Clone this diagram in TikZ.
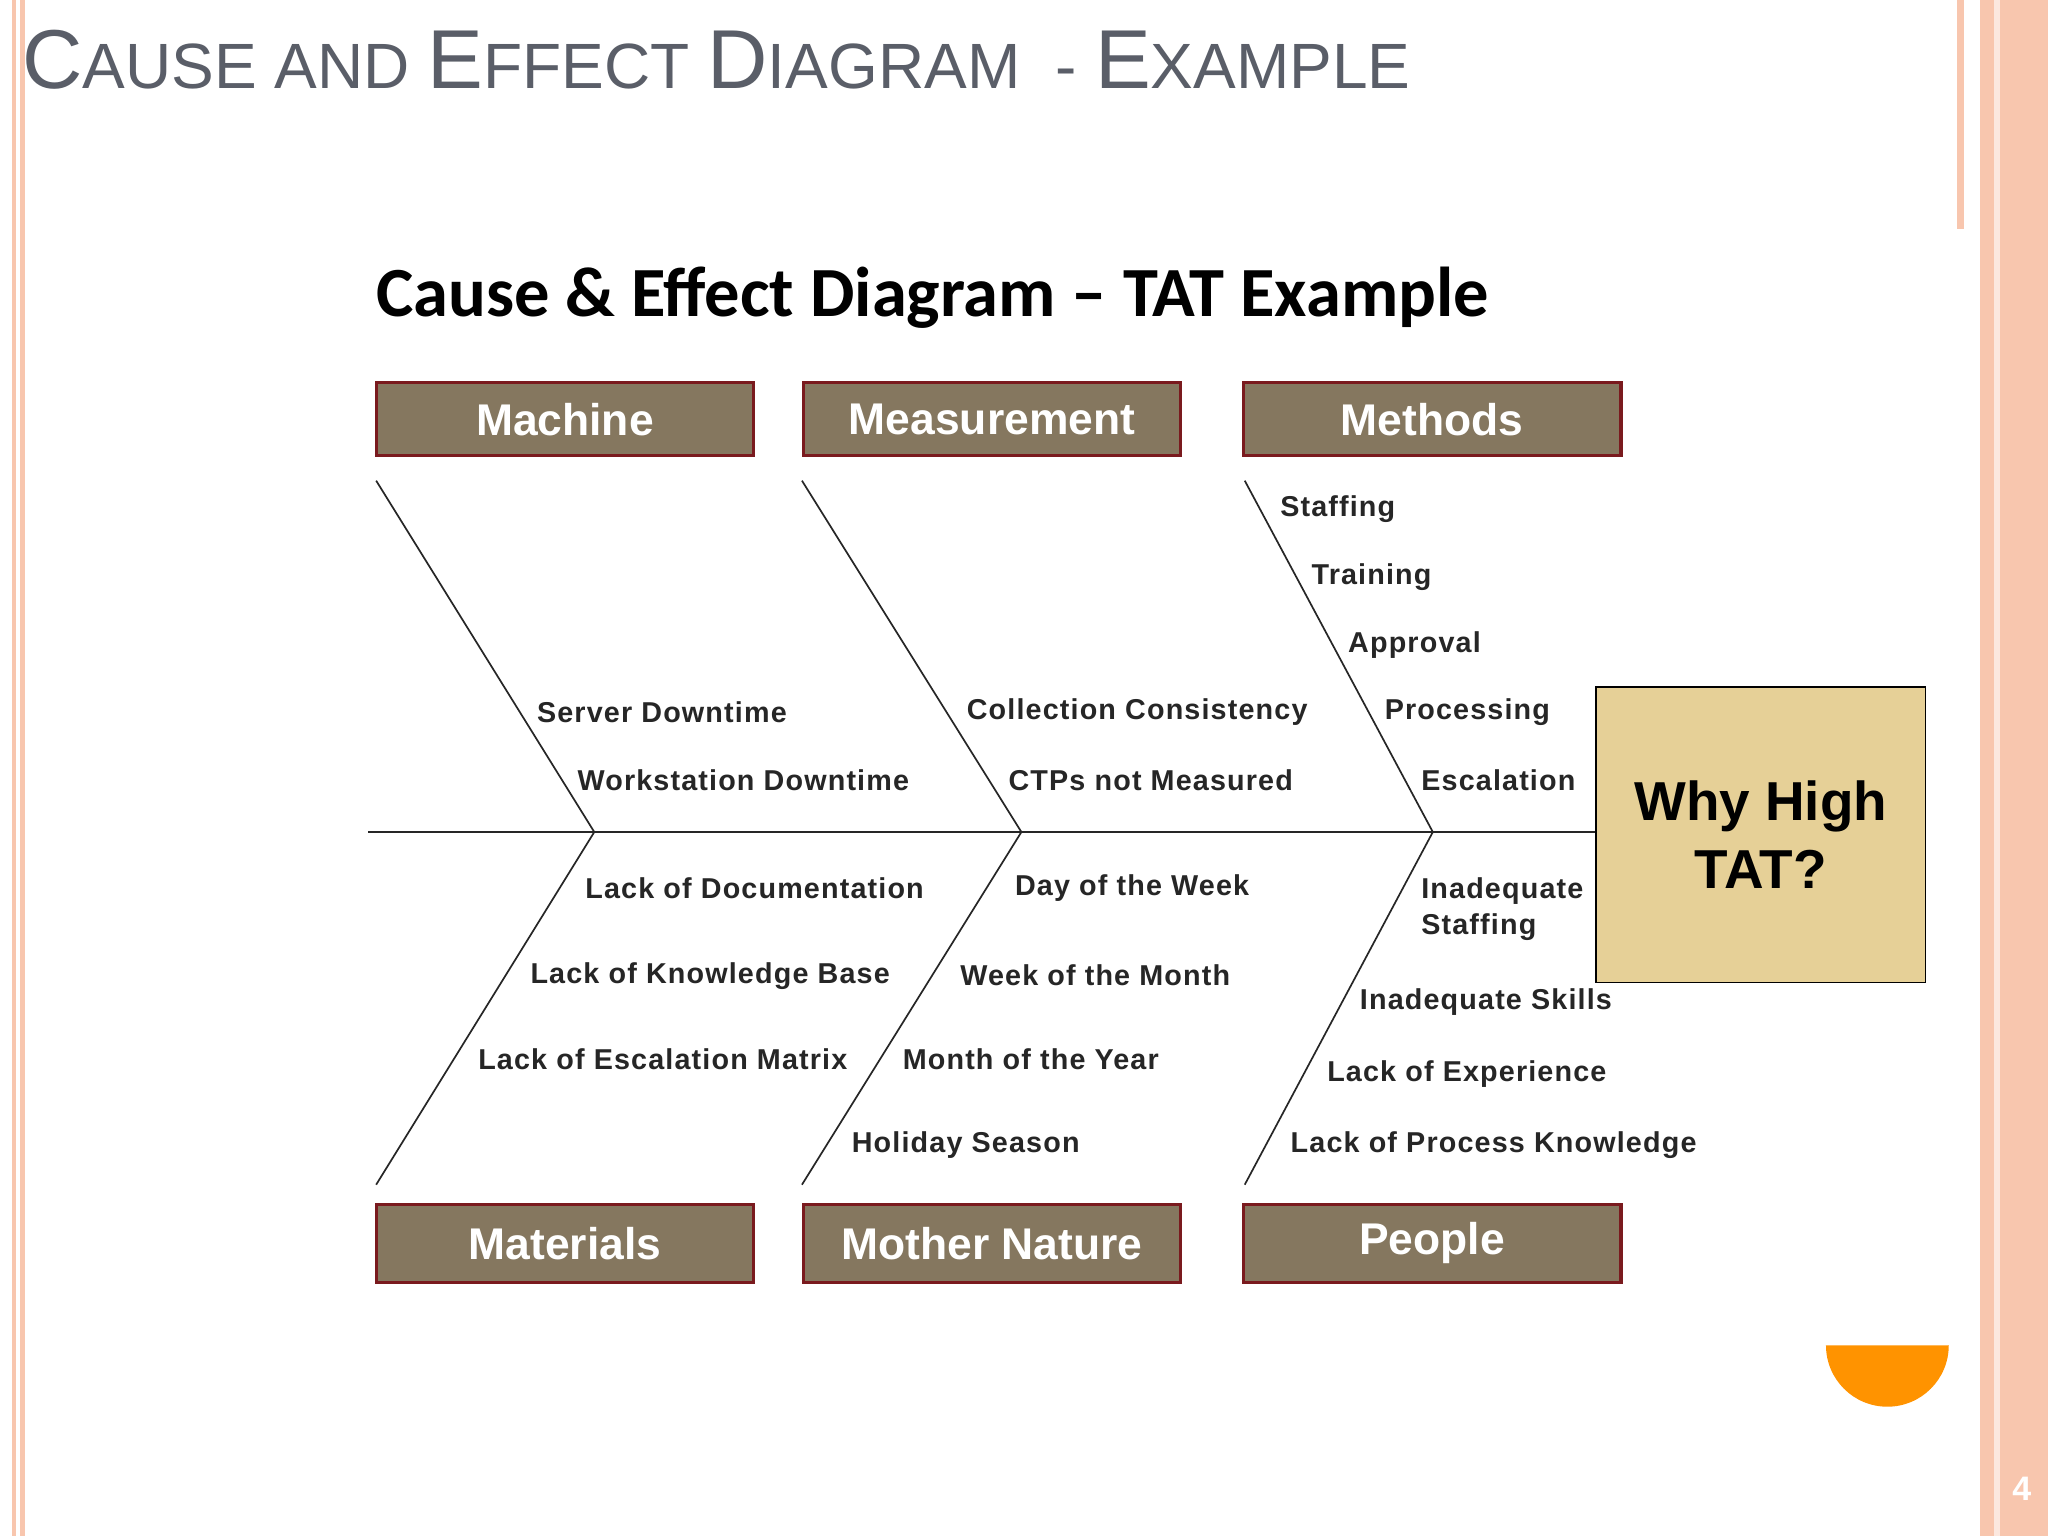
\documentclass[tikz,border=0pt]{standalone}
\usepackage{fontspec}
\setmainfont{Liberation Sans}
\newfontfamily\carl{Carlito}
\definecolor{boxf}{HTML}{85775F}
\definecolor{boxd}{HTML}{7A1A1E}
\definecolor{effc}{HTML}{E6D097}
\definecolor{ttl}{HTML}{5A5E68}
\definecolor{peach}{HTML}{F8C6AE}
\begin{document}
\begin{tikzpicture}[x=1pt,y=-1pt,
  cat/.style={draw=boxd,line width=2.5pt,fill=boxf,minimum width=289pt,minimum height=56pt,text=white,font=\bfseries\fontsize{34}{38}\selectfont,inner sep=0pt},
  lab/.style={anchor=west,inner sep=0pt,font=\bfseries\addfontfeatures{LetterSpace=4}\fontsize{22}{27}\selectfont,text=black!85},
  bone/.style={line width=1.3pt,black!85}]
\useasboundingbox (0,0) rectangle (1568,1176);
\fill[white] (0,0) rectangle (1568,1176);
% borders
\fill[peach] (9,0) rectangle (12,1176);
\fill[peach] (15,0) rectangle (19,1176);
\fill[peach] (1498,0) rectangle (1504,175);
\fill[peach] (1516,0) rectangle (1568,1176);
\fill[white!60!peach] (1527,0) rectangle (1531,1176);
\fill[orange!85!yellow] (1398,1030) arc[start angle=180,end angle=0,radius=47] -- cycle;
\node[text=white,font=\bfseries\fontsize{26}{28}\selectfont] (pg) at (1548,1140) {4};
% title
\node[anchor=base west,inner sep=0pt,text=ttl,font=\fontsize{64}{68}\selectfont] (title) at (17,68) {C\fontsize{49}{54}\selectfont AUSE AND \fontsize{64}{68}\selectfont E\fontsize{49}{54}\selectfont FFECT \fontsize{64}{68}\selectfont D\fontsize{49}{54}\selectfont IAGRAM\ \ - \fontsize{64}{68}\selectfont E\fontsize{49}{54}\selectfont XAMPLE};
\node[font=\carl\bfseries\fontsize{54}{58}\selectfont] (sub) at (714,228) {Cause \& Effect Diagram \textendash{} TAT Example};
% category boxes
\node[cat] (mach) at (432.5,321) {Machine};
\node[cat] (meas) at (759.5,321) {Measurement};
\node[cat] (meth) at (1096.5,321) {Methods};
\node[cat,minimum height=60pt] (mat) at (432.5,952) {Materials};
\node[cat,minimum height=60pt] (mn) at (759.5,952) {Mother Nature};
\node[cat,minimum height=60pt] (peo) at (1096.5,952) {People};
% effect
\node[draw=black,line width=1pt,fill=effc,minimum width=252pt,minimum height=226pt,align=center,font=\bfseries\fontsize{42}{52}\selectfont,inner sep=0pt] (eff) at (1348,639) {Why High\\TAT?};
% spine
\coordinate (s0) at (282,637);
\coordinate (j1) at (455,637);
\coordinate (j2) at (782,637);
\coordinate (j3) at (1097,637);
\draw[bone] (s0) -- (eff.west |- s0);
\coordinate (t1) at (288,368); \coordinate (t2) at (614,368); \coordinate (t3) at (953,368);
\coordinate (b1) at (288,907); \coordinate (b2) at (614,907); \coordinate (b3) at (953,907);
\draw[bone] (t1) -- (j1) -- (b1);
\draw[bone] (t2) -- (j2) -- (b2);
\draw[bone] (t3) -- (j3) -- (b3);
% labels
\node[lab] (l1) at (411,545) {Server Downtime};
\node[lab] (l2) at (442,597) {Workstation Downtime};
\node[lab] (l3) at (740,545) {Collection Consistency};
\node[lab] (l4) at (772,597) {CTPs not Measured};
\node[lab] (l5) at (980,390) {Staffing};
\node[lab] (l6) at (1004,442) {Training};
\node[lab] (l7) at (1032,494) {Approval};
\node[lab] (l8) at (1060,545) {Processing};
\node[lab] (l9) at (1088,597) {Escalation};
\node[lab] (l10) at (448,680) {Lack of Documentation};
\node[lab] (l11) at (406,747) {Lack of Knowledge Base};
\node[lab] (l12) at (366,811) {Lack of Escalation Matrix};
\node[lab] (l13) at (777,680) {Day of the Week};
\node[lab] (l14) at (735,747) {Week of the Month};
\node[lab] (l15) at (691,811) {Month of the Year};
\node[lab] (l16) at (652,877) {Holiday Season};
\node[lab,align=left] (l17) at (1088,696) {Inadequate\\Staffing};
\node[lab] (l18) at (1041,767) {Inadequate Skills};
\node[lab] (l19) at (1016,822) {Lack of Experience};
\node[lab] (l20) at (988,877) {Lack of Process Knowledge};
\end{tikzpicture}
\end{document}
